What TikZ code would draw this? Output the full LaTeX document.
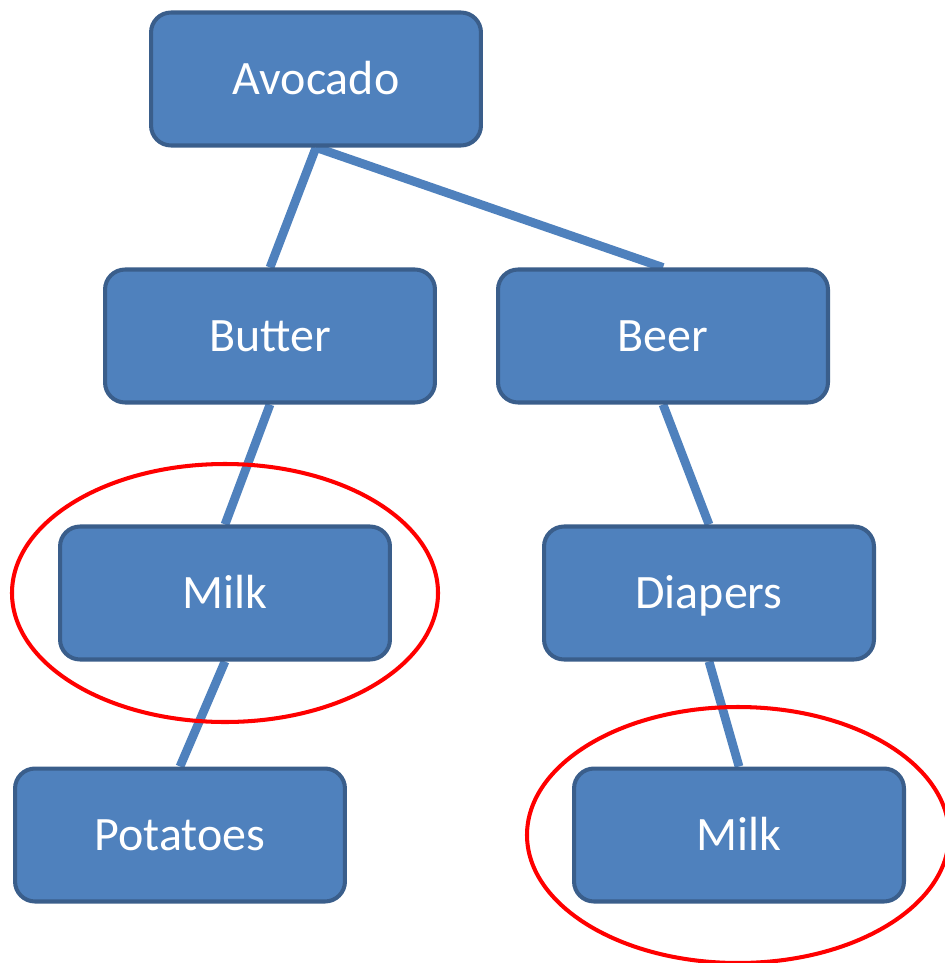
\documentclass[tikz,border=0pt]{standalone}
\usepackage{fontspec}
\setmainfont{Carlito}
\usetikzlibrary{backgrounds}

\definecolor{itemblue}{RGB}{79,129,189}
\definecolor{itemedge}{RGB}{58,94,139}

\begin{document}
\begin{tikzpicture}[x=0.02cm, y=-0.02cm,
	every item/.style={draw=itemedge, line width=2.3pt, fill=itemblue,
		rounded corners=0.4cm, minimum width=6.6cm, minimum height=2.66cm,
		inner sep=0pt, text=white, text height=17.5pt, text depth=0pt,
		font=\fontsize{27.3}{30}\selectfont},
	link/.style={itemblue, line width=5pt},
	frequent/.style={red, line width=2.3pt}]

		\useasboundingbox (0,0) rectangle (945,963);

		% items of the tree
		\foreach \n/\l/\x/\y in {avocado/Avocado/316/79, butter/Butter/270/336,
			beer/Beer/663/336, milkleft/Milk/225/593, diapers/Diapers/709/593,
			potatoes/Potatoes/180/835, milkright/Milk/739/835}
			\node [every item] (\n) at (\x,\y) {\l};

		% lines from parent to child
		\begin{scope}[on background layer]
		\foreach \a/\b in {avocado/butter, avocado/beer, butter/milkleft,
			beer/diapers, milkleft/potatoes, diapers/milkright}
			\draw [link] (\a.south) -- (\b.north);
		\end{scope}

		% frequent items
		\draw [frequent] (milkleft) ellipse [x radius=213, y radius=129];
		\draw [frequent] ([xshift=-0.02cm]milkright) ellipse [x radius=211, y radius=128];

\end{tikzpicture}
\end{document}
